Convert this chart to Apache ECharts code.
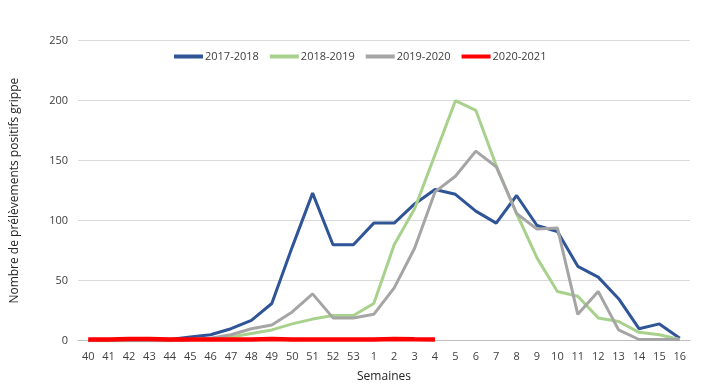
<!DOCTYPE html>
<html><head><meta charset="utf-8">
<script src="https://cdn.jsdelivr.net/npm/echarts@6/dist/echarts.min.js"></script>
<style>html,body{margin:0;padding:0;background:#fff}#c{width:701px;height:389px}</style>
</head><body><div id="c"></div>
<script>
const weeks = ['40','41','42','43','44','45','46','47','48','49','50','51','52','53','1','2','3','4','5','6','7','8','9','10','11','12','13','14','15','16'];
const s2017 = [0,1,1,1,1,3,5,10,17,31,78,123,80,80,98,98,114,126,122,108,98,121,96,91,62,53,35,10,14,2];
const s2018 = [0,0,0,0,0,1,1,3,6,9,14,18,21,21,31,80,110,155,200,192,146,106,69,41,37,19,16,7,5,1];
const s2019 = [0,0,0,0,0,1,2,5,10,13,24,39,19,19,22,44,77,124,137,158,145,106,93,94,22,41,9,1,1,1];
const s2020 = [1,1,1.5,1.5,1,1,1,1,1,1.5,1,1,1,1,1,1.5,1.2,1,null,null,null,null,null,null,null,null,null,null,null,null];
const yTicks = [0,50,100,150,200,250];
const FONT = 'Open Sans';
const chart = echarts.init(document.getElementById('c'));
function ser(name, data, color, w){
  return {name, type:'line', data, symbol:'none', smooth:false, connectNulls:false,
    lineStyle:{color, width:w}, itemStyle:{color}};
}
chart.setOption({
  animation:false,
  textStyle:{fontFamily:FONT},
  legend:{top:46, left:169, itemWidth:29, itemHeight:4, itemGap:11, icon:'rect',
    textStyle:{fontFamily:FONT, fontSize:11, color:'#404040', padding:[0,0,0,-3]},
    data:['2017-2018','2018-2019','2019-2020','2020-2021']},
  grid:{left:78, right:11, top:40.7, bottom:48.3, containLabel:false},
  xAxis:{type:'category', data:weeks, boundaryGap:true,
    axisLine:{lineStyle:{color:'#bfbfbf', width:1}}, axisTick:{show:false},
    axisLabel:{color:'#404040', fontSize:11, fontFamily:FONT, margin:11, interval:0},
    name:'Semaines', nameLocation:'middle', nameGap:30,
    nameTextStyle:{color:'#262626', fontSize:12, fontFamily:FONT}},
  yAxis:{type:'value', min:0, max:250, interval:50,
    axisLine:{show:false}, axisTick:{show:false},
    splitLine:{lineStyle:{color:'#d9d9d9', width:1}},
    axisLabel:{color:'#404040', fontSize:11, fontFamily:FONT, margin:10,
      formatter:v=>yTicks.includes(v)?String(v):''},
    name:'Nombre de prélèvements positifs grippe', nameLocation:'middle', nameGap:57,
    nameTextStyle:{color:'#262626', fontSize:12, fontFamily:FONT}},
  series:[
    ser('2017-2018', s2017, '#2F5597', 3),
    ser('2018-2019', s2018, '#A9D18E', 3),
    ser('2019-2020', s2019, '#A5A5A5', 3),
    ser('2020-2021', s2020, '#FF0000', 4.5)
  ]
});
</script></body></html>
